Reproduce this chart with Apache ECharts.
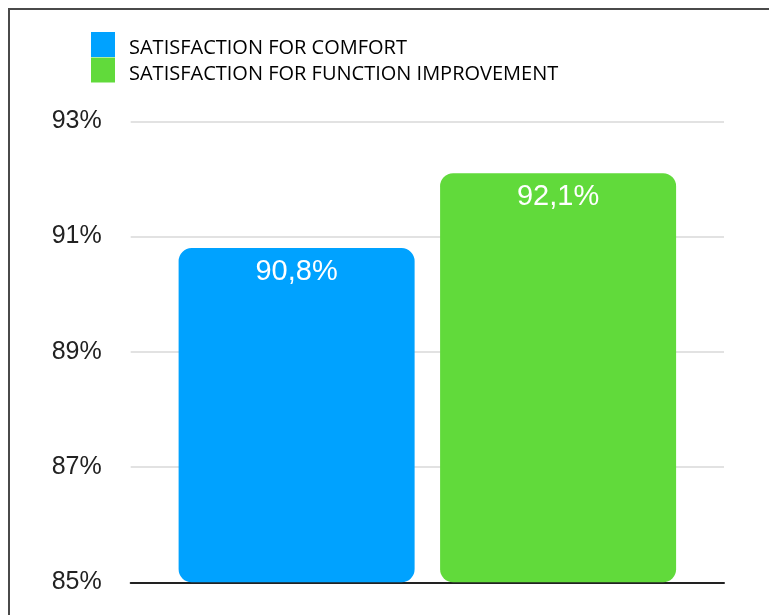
<!DOCTYPE html>
<html>
<head>
<meta charset="utf-8">
<style>
  html, body { margin: 0; padding: 0; background: #fff; }
  #chart { width: 769px; height: 615px; }
</style>
<script src="https://cdn.jsdelivr.net/npm/echarts@6/dist/echarts.min.js"></script>
</head>
<body>
<div id="chart"></div>
<script>
// Survey results: satisfaction percentages
const categories = [''];
const seriesNames = ['SATISFACTION FOR COMFORT', 'SATISFACTION FOR FUNCTION IMPROVEMENT'];
const comfortValues = [90.8];
const functionValues = [92.1];
const seriesColors = ['#00A2FF', '#61DA3B'];
const yTicks = { min: 85, max: 93, interval: 2 };

const fmtComma = v => String(v).replace('.', ',') + '%';

const chart = echarts.init(document.getElementById('chart'));

const barLabel = {
  show: true,
  position: 'insideTop',
  distance: 9,
  color: '#fff',
  fontFamily: 'Liberation Sans',
  fontSize: 29,
  formatter: p => fmtComma(p.value)
};

chart.setOption({
  backgroundColor: '#fff',
  animation: false,
  graphic: [{
    type: 'rect',
    shape: { x: 9, y: 9, width: 800, height: 700 },
    style: { fill: 'none', stroke: '#4a4a4a', lineWidth: 2 },
    silent: true
  }],
  legend: {
    orient: 'vertical',
    left: 91,
    top: 32,
    padding: 0,
    itemWidth: 24,
    itemHeight: 25,
    itemGap: -1,
    icon: 'rect',
    selectedMode: false,
    formatter: name => '{t|' + name + '}',
    textStyle: {
      rich: {
        t: {
          fontFamily: 'Open Sans',
          fontSize: 20,
          color: '#000',
          padding: [8, 0, 0, 9]
        }
      }
    },
    data: seriesNames
  },
  grid: { left: 130.7, right: 45, top: 121.3, bottom: 32.7 },
  xAxis: {
    type: 'category',
    data: categories,
    axisLine: { show: true, lineStyle: { color: '#222', width: 2 } },
    axisTick: { show: false },
    axisLabel: { show: false }
  },
  yAxis: {
    type: 'value',
    min: yTicks.min,
    max: yTicks.max,
    interval: yTicks.interval,
    axisLine: { show: false },
    axisTick: { show: false },
    axisLabel: {
      formatter: '{value}%',
      margin: 29,
      color: '#222',
      fontFamily: 'Liberation Sans',
      fontSize: 25
    },
    splitLine: { lineStyle: { color: '#d8d8d8', width: 1.5 } }
  },
  series: [
    {
      name: seriesNames[0],
      type: 'bar',
      data: comfortValues,
      barWidth: 236,
      barGap: '10.8%',
      itemStyle: { color: seriesColors[0], borderRadius: 13 },
      label: barLabel
    },
    {
      name: seriesNames[1],
      type: 'bar',
      data: functionValues,
      barWidth: 236,
      barGap: '10.8%',
      itemStyle: { color: seriesColors[1], borderRadius: 13 },
      label: barLabel
    }
  ]
});
</script>
</body>
</html>
